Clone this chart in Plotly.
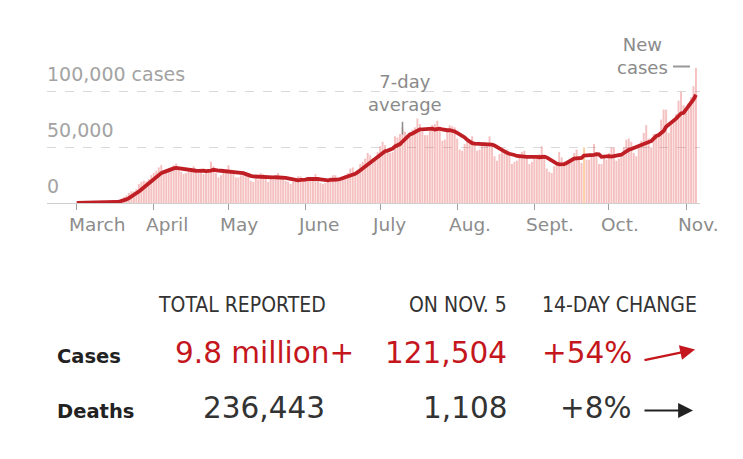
import pandas as pd
import plotly.graph_objects as go

# ---------------- data ----------------
start_date = "2020-03-01"
end_date = "2020-11-05"

cases_mar = [8, 20, 25, 30, 70, 60, 100, 120, 180, 260, 380, 460, 600, 700, 900, 1300,
             1800, 2500, 4000, 5500, 6800, 9000, 10500, 10500, 12500, 17000, 19000, 20000,
             19500, 21500, 25000]
cases_apr = [27000, 29000, 32000, 34000, 26000, 29000, 31000, 32000, 34000, 35500, 31000,
             28000, 26000, 27000, 30000, 31000, 33000, 28000, 27000, 28000, 26000, 28000,
             30000, 37000, 33000, 27000, 23000, 25000, 27000, 30000]
cases_may = [34000, 29000, 26000, 23000, 23000, 25000, 28000, 27000, 25000, 20000, 19000,
             22000, 21000, 27000, 26000, 25000, 19000, 22000, 21000, 22000, 27000, 24000,
             22000, 20000, 19000, 17000, 19000, 22000, 24000, 24000, 20000]
cases_jun = [21000, 21000, 20000, 21000, 26000, 22000, 18000, 17000, 18000, 21000, 23000,
             25000, 25000, 19000, 20000, 23000, 25000, 27000, 31000, 32000, 26000, 30000,
             35000, 37000, 40000, 45000, 43000, 40000, 39000, 46000]
cases_jul = [51000, 55000, 52000, 47000, 45000, 46000, 60000, 59000, 62000, 68000, 64000,
             59000, 60000, 66000, 68000, 76000, 71000, 64000, 61000, 61000, 65000, 70000,
             71000, 74000, 66000, 56000, 57000, 64000, 70000, 69000, 68000]
cases_aug = [58000, 48000, 47000, 53000, 55000, 56000, 60000, 55000, 47000, 48000, 53000,
             55000, 52000, 60000, 52000, 42000, 38000, 44000, 47000, 45000, 48000, 46000,
             35000, 37000, 38000, 44000, 46000, 47000, 43000, 35000, 37000]
cases_sep = [42000, 40000, 44000, 51000, 42000, 31000, 28000, 27000, 33000, 36000, 46000,
             41000, 34000, 35000, 38000, 40000, 45000, 48000, 42000, 36000, 50000, 39000,
             39000, 44000, 53000, 46000, 35000, 35000, 42000, 39000]
cases_oct = [45000, 50000, 50000, 38000, 40000, 42000, 50000, 57000, 58000, 55000, 45000,
             42000, 50000, 56000, 63000, 70000, 58000, 50000, 62000, 62000, 63000, 75000,
             84000, 84000, 63000, 70000, 75000, 80000, 92000, 100000, 88000]
cases_nov = [82000, 90000, 95000, 105000, 121504]

anomaly_dates = ["2020-09-21"]

month_ticks = ["2020-03-01", "2020-04-01", "2020-05-01", "2020-06-01", "2020-07-01",
               "2020-08-01", "2020-09-01", "2020-10-01", "2020-11-01"]
month_labels = ["March", "April", "May", "June", "July", "Aug.", "Sept.", "Oct.", "Nov."]

y_grid_vals = [0, 50000, 100000]
y_grid_labels = ["0", "50,000", "100,000 cases"]

table_headers = ["TOTAL REPORTED", "ON NOV. 5", "14-DAY CHANGE"]
row_labels = ["Cases", "Deaths"]
row_total = ["9.8 million+", "236,443"]
row_today = ["121,504", "1,108"]
row_change = ["+54%", "+8%"]

# ---------------- build ----------------
dates = pd.date_range(start_date, end_date, freq="D")
new_cases = (cases_mar + cases_apr + cases_may + cases_jun + cases_jul + cases_aug
             + cases_sep + cases_oct + cases_nov)
df = pd.DataFrame({"date": dates, "cases": new_cases})
df["avg7"] = df["cases"].rolling(7, min_periods=1).mean()

BAR = "rgba(228,90,90,0.38)"
ANOM = "rgba(250,170,90,0.55)"
bar_colors = [ANOM if d.strftime("%Y-%m-%d") in anomaly_dates else BAR for d in df["date"]]

RED = "#c4161c"
LINE_RED = "#bf1e24"
FONT = "DejaVu Sans"
FONT_C = "DejaVu Sans Condensed, DejaVu Sans"

fig = go.Figure()
fig.add_trace(go.Bar(x=df["date"], y=df["cases"], marker=dict(color=bar_colors, line=dict(width=0)),
                     hoverinfo="skip"))
fig.add_trace(go.Scatter(x=df["date"], y=df["avg7"], mode="lines",
                         line=dict(color=LINE_RED, width=3.8), hoverinfo="skip"))

# layout geometry
L, R, T, B = 47, 43, 64, 256
W, H = 743, 459
pw, ph = W - L - R, H - T - B
base_px = H - B  # pixel y of zero line


def px_x(px):
    return (px - L) / pw


def px_y(py):
    return (base_px - py) / ph


day0 = pd.Timestamp(start_date)
px_per_day = 2.487
x_left = day0 - pd.Timedelta(days=(76.7 - L) / px_per_day)
x_right = day0 + pd.Timedelta(days=(W - R - 76.7) / px_per_day)

fig.update_layout(
    width=W, height=H,
    margin=dict(l=L, r=R, t=T, b=B, pad=0),
    paper_bgcolor="white", plot_bgcolor="white",
    showlegend=False, bargap=0.22,
    font=dict(family=FONT, color="#333"),
    xaxis=dict(type="date", range=[x_left, x_right], tickvals=month_ticks,
               showticklabels=False, ticks="outside", ticklen=6, tickcolor="#a0a0a0",
               tickwidth=1, showgrid=False, zeroline=False,
               showline=True, linecolor="#cfcfcf", linewidth=1),
    yaxis=dict(range=[0, 125000], tickvals=y_grid_vals[1:], showticklabels=False,
               showgrid=True, gridcolor="#d9d9d9", griddash="dash", gridwidth=1,
               zeroline=False, showline=False),
)

ann = []
# month labels
for d, lab in zip(month_ticks, month_labels):
    ann.append(dict(x=d, xref="x", y=px_y(224.5), yref="paper", text=lab,
                    xanchor="left", yanchor="middle", xshift=-10, showarrow=False,
                    font=dict(size=18.5, color="#8c8c8c", family=FONT)))
# y labels
for v, lab in zip(y_grid_vals, y_grid_labels):
    ann.append(dict(x=0, xref="paper", y=v, yref="y", text=lab, xanchor="left",
                    yanchor="middle", yshift=17.5, xshift=-2, showarrow=False,
                    font=dict(size=19, color="#a3a3a3", family=FONT)))
# 7-day average label
ann.append(dict(x=px_x(405), xref="paper", y=px_y(92.5), yref="paper",
                text="7-day<br>average", showarrow=False, xanchor="center", yanchor="middle",
                font=dict(size=18, color="#8a8a8a", family=FONT)))
# new cases label
ann.append(dict(x=px_x(642), xref="paper", y=px_y(56.5), yref="paper",
                text="New<br>cases", showarrow=False, xanchor="center", yanchor="middle",
                font=dict(size=18, color="#8a8a8a", family=FONT)))

# table header
hdr_y = px_y(304.5)
ann.append(dict(x=px_x(158), xref="paper", y=hdr_y, yref="paper", text=table_headers[0],
                xanchor="left", yanchor="middle", showarrow=False, xshift=-2,
                font=dict(size=21, color="#333", family=FONT_C)))
ann.append(dict(x=px_x(507), xref="paper", y=hdr_y, yref="paper", text=table_headers[1],
                xanchor="right", yanchor="middle", showarrow=False, xshift=2,
                font=dict(size=21, color="#333", family=FONT_C)))
ann.append(dict(x=px_x(542), xref="paper", y=hdr_y, yref="paper", text=table_headers[2],
                xanchor="left", yanchor="middle", showarrow=False, xshift=-2,
                font=dict(size=21, color="#333", family=FONT_C)))

row_label_y = [356, 411]
row_num_y = [352.5, 407.5]
row_colors = [RED, "#333"]
for i in range(2):
    ann.append(dict(x=px_x(57), xref="paper", y=px_y(row_label_y[i]), yref="paper",
                    text="<b>" + row_labels[i] + "</b>", xanchor="left", yanchor="middle",
                    showarrow=False, xshift=-2,
                    font=dict(size=19.5, color="#222", family=FONT)))
    ann.append(dict(x=px_x(264), xref="paper", y=px_y(row_num_y[i]), yref="paper",
                    text=row_total[i], xanchor="center", yanchor="middle", showarrow=False,
                    font=dict(size=29.5, color=row_colors[i], family=FONT)))
    ann.append(dict(x=px_x(507), xref="paper", y=px_y(row_num_y[i]), yref="paper",
                    text=row_today[i], xanchor="right", yanchor="middle", showarrow=False,
                    xshift=2, font=dict(size=29.5, color=row_colors[i], family=FONT)))
    ann.append(dict(x=px_x(632), xref="paper", y=px_y(row_num_y[i]), yref="paper",
                    text=row_change[i], xanchor="right", yanchor="middle", showarrow=False,
                    xshift=2, font=dict(size=29.5, color=row_colors[i], family=FONT)))

# trend arrows
ann.append(dict(x=px_x(695), xref="paper", y=px_y(349.5), yref="paper", text="",
                showarrow=True, ax=-52, ay=11, arrowhead=2, arrowsize=1.35,
                arrowwidth=2.2, arrowcolor=RED))
ann.append(dict(x=px_x(693), xref="paper", y=px_y(410.5), yref="paper", text="",
                showarrow=True, ax=-50, ay=0, arrowhead=2, arrowsize=1.35,
                arrowwidth=2.2, arrowcolor="#222"))

fig.update_layout(annotations=ann)

# leader lines
fig.add_shape(type="line", xref="x", yref="y", x0="2020-07-10", x1="2020-07-10",
              y0=61500, y1=73000, line=dict(color="#8a8a8a", width=1.5))
fig.add_shape(type="line", xref="paper", yref="paper", x0=px_x(673), x1=px_x(690),
              y0=px_y(66.5), y1=px_y(66.5), line=dict(color="#999", width=2))

fig.write_html("out.html")
